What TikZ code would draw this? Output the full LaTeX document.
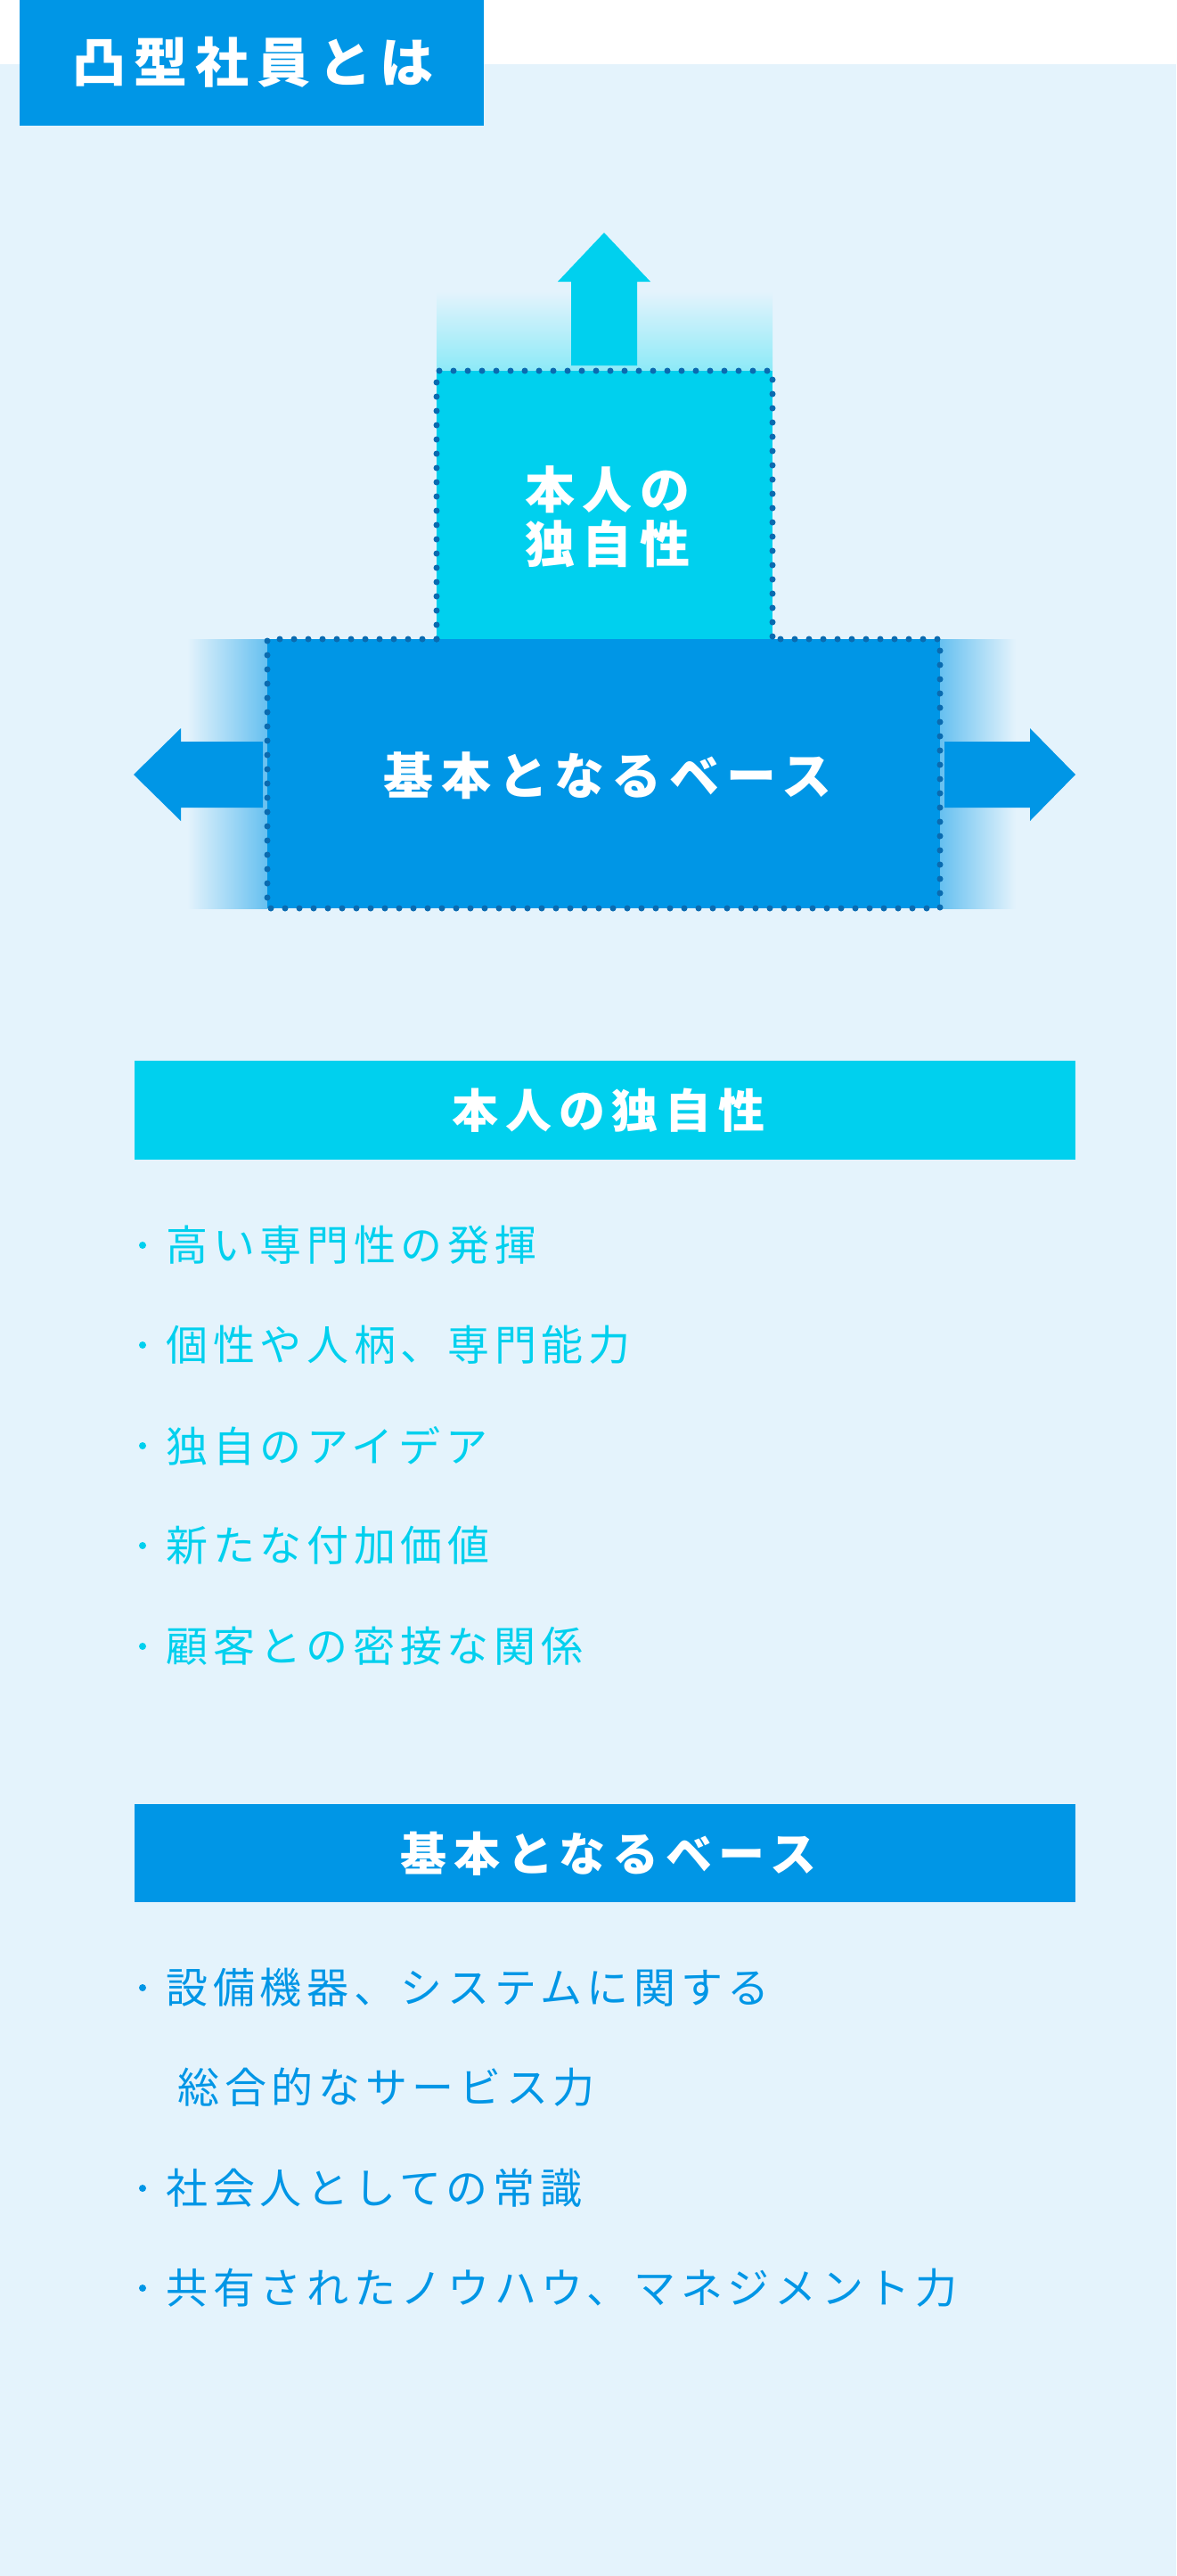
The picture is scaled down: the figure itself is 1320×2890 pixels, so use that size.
\documentclass[tikz,border=0pt]{standalone}
\usepackage{fontspec}
\setmainfont{Noto Sans CJK JP}
\newfontfamily\jph{Noto Sans CJK JP}[LetterSpace=15]
\newfontfamily\jpl{Noto Sans CJK JP}[LetterSpace=12]
\definecolor{bg}{HTML}{E4F3FC}
\definecolor{cy}{HTML}{00D0EE}
\definecolor{bl}{HTML}{0096E6}
\definecolor{dot}{HTML}{0A6BB0}
\begin{document}
\begin{tikzpicture}[x=1pt,y=-1pt,
  dotb/.style={draw=dot,line width=7pt,line cap=round,dash pattern=on 0pt off 16pt},
  headtxt/.style={text=white,font=\jph\bfseries},
  item/.style={anchor=west,font=\jpl\fontsize{47}{50}\selectfont},
  bul/.style={circle,inner sep=0pt,minimum size=8pt}]
\useasboundingbox (0,0) rectangle (1320,2890);
\fill[white] (0,0) rectangle (1320,2890);
\fill[bg] (0,72) rectangle (1320,2890);
\fill[bl] (22,0) rectangle (543,141);
\node[headtxt,font=\jph\bfseries\fontsize{60}{64}\selectfont] (title) at (284,70) {凸型社員とは};
% gradients
\shade[top color=bg,bottom color=cy!45] (490,327) rectangle (867,416);
\shade[left color=bg,right color=bl!60] (210,717) rectangle (300,1019);
\shade[right color=bg,left color=bl!60] (1055,717) rectangle (1140,1019);
% arrows
\fill[cy] (641,410) -- (641,316) -- (626,316) -- (678,261) -- (730,316) -- (715,316) -- (715,410) -- cycle;
\fill[bl] (295,832) -- (203,832) -- (203,817) -- (150,869) -- (203,921) -- (203,906) -- (295,906) -- cycle;
\fill[bl] (1060,832) -- (1156,832) -- (1156,817) -- (1207,869) -- (1156,921) -- (1156,906) -- (1060,906) -- cycle;
% boxes
\fill[cy] (490,416) rectangle (867,717);
\fill[bl] (300,717) rectangle (1055,1019);
\node[headtxt,font=\jph\bfseries\fontsize{56}{61}\selectfont,align=center] (top) at (682,580) {本人の\\独自性};
\node[headtxt,font=\jph\bfseries\fontsize{56}{60}\selectfont] (basetxt) at (682,870) {基本となるベース};
\draw[dotb] (490,717) -- (490,416) -- (867,416) -- (867,717);
\draw[dotb] (490,717) -- (300,717) -- (300,1019) -- (1055,1019) -- (1055,717) -- (867,717);
% section 1
\fill[cy] (151,1190) rectangle (1207,1301);
\node[headtxt,font=\jph\bfseries\fontsize{52}{56}\selectfont] (s1) at (683,1246) {本人の独自性};
\foreach \t/\y [count=\i] in {高い専門性の発揮/1397,個性や人柄、専門能力/1509,独自のアイデア/1622,新たな付加価値/1734,顧客との密接な関係/1847}{
  \node[bul,fill=cy] (b1\i) at (160,\y) {};
  \node[item,text=cy] (t1\i) at (183,\y) {\t};
}
% section 2
\fill[bl] (151,2024) rectangle (1207,2134);
\node[headtxt,font=\jph\bfseries\fontsize{52}{56}\selectfont] (s2) at (683,2080) {基本となるベース};
\foreach \t/\y [count=\i] in {設備機器、システムに関する/2230,社会人としての常識/2455,共有されたノウハウ、マネジメント力/2567}{
  \node[bul,fill=bl] (b2\i) at (160,\y) {};
  \node[item,text=bl] (t2\i) at (183,\y) {\t};
}
\node[item,text=bl] (t2x) at (196,2342) {総合的なサービス力};
\end{tikzpicture}
\end{document}
